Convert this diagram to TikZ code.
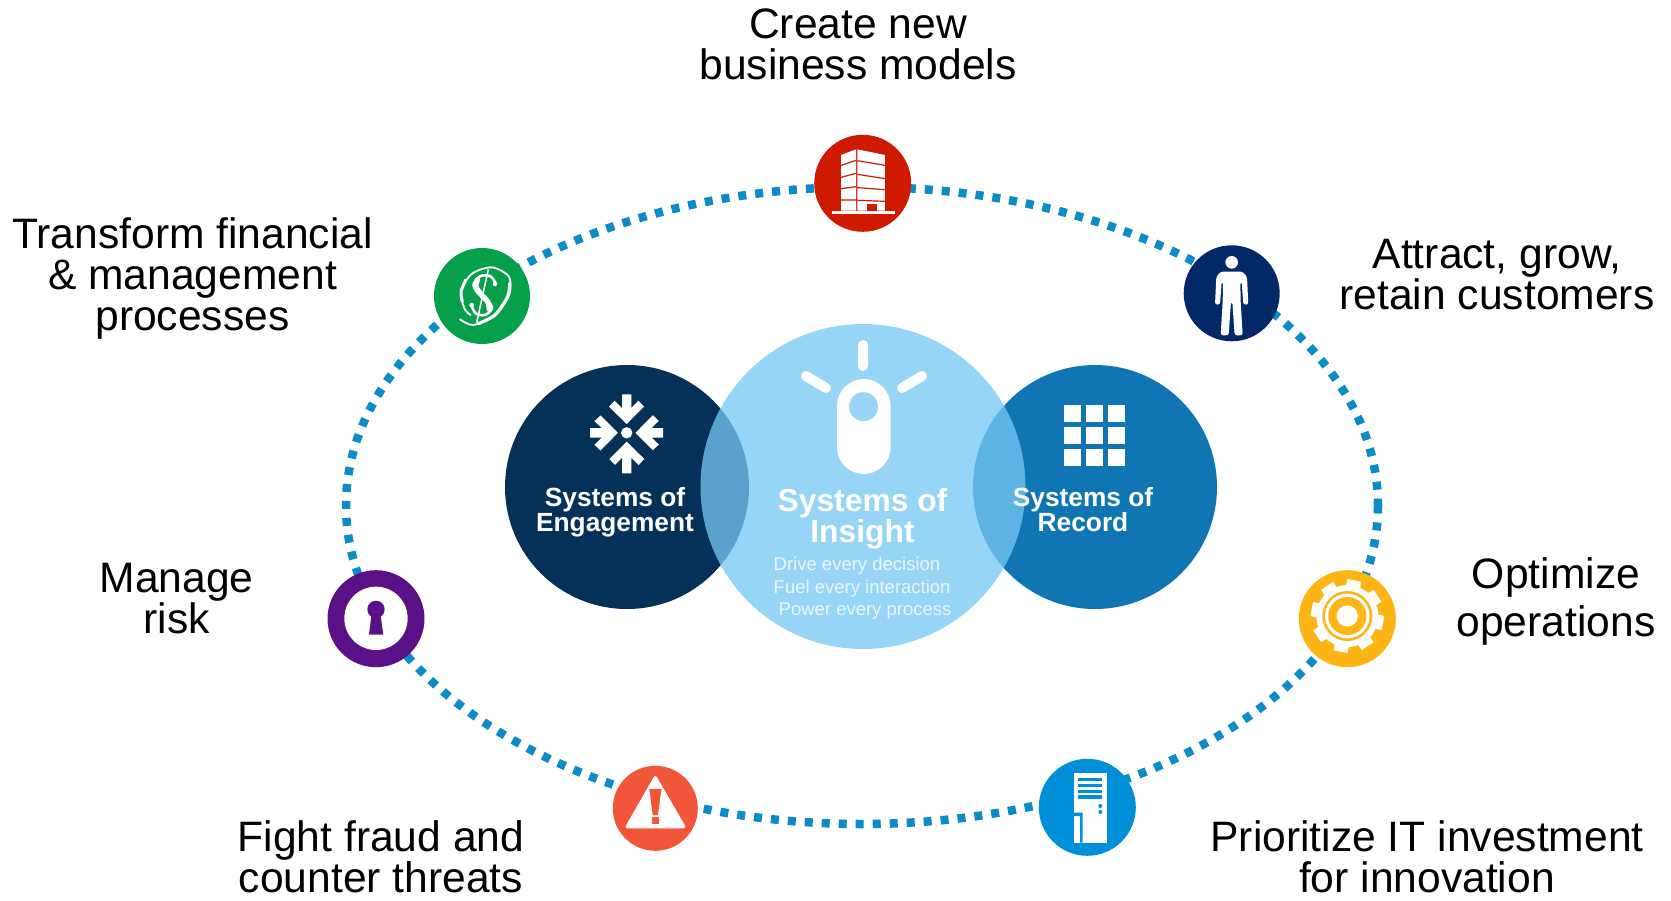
\documentclass[tikz,border=0pt]{standalone}
\usepackage{fontspec}
\setmainfont{Liberation Sans}
\definecolor{ringblue}{HTML}{0A8CC8}
\definecolor{engage}{HTML}{053158}
\definecolor{insightc}{RGB}{118,199,244}
\definecolor{recordc}{HTML}{1076B3}
\definecolor{createc}{HTML}{CF1A00}
\definecolor{transc}{HTML}{06A04A}
\definecolor{attractc}{HTML}{032868}
\definecolor{optc}{HTML}{FDB515}
\definecolor{itc}{HTML}{0090DA}
\definecolor{fraudc}{HTML}{F1553A}
\definecolor{riskc}{HTML}{5A1188}
\definecolor{softw}{HTML}{EAF6FD}
\tikzset{
  disc/.style={circle,inner sep=0pt,minimum size=#1},
  outerlabel/.style={align=center,inner sep=0pt,text=black,font=\fontsize{42.6}{41}\selectfont},
  headlabel/.style={align=center,inner sep=0pt,text=white,font=\fontsize{26.3}{25}\selectfont\bfseries},
  subline/.style={anchor=west,inner sep=0pt,text=softw,font=\fontsize{18.5}{20}\selectfont},
  zoomed/.style 2 args={shift={(#1,#2)},x=.3333pt,y=-.3333pt},
}
\begin{document}
\begin{tikzpicture}[x=1pt,y=-1pt]
\useasboundingbox (0,0) rectangle (1671,900);
% dotted ring
\draw[ringblue,line width=8.5pt,dash pattern=on 8pt off 9pt] (862,505.5) ellipse [x radius=516,y radius=318.5];
% central circles
\node[disc=244pt,fill=engage] (engagement) at (627,487) {};
\node[disc=244pt,fill=recordc] (record) at (1095,487) {};
\node[disc=325pt,fill=insightc,fill opacity=.756] (insight) at (863,486.5) {};
% outer discs
\node[disc=97pt,fill=createc] (create) at (862.7,183.3) {};
\node[disc=96pt,fill=transc] (transform) at (482,296) {};
\node[disc=96pt,fill=attractc] (attract) at (1231.7,293.3) {};
\node[disc=97pt,fill=optc] (optimize) at (1347.3,618.7) {};
\node[disc=97pt,fill=itc] (prioritize) at (1087.3,807.3) {};
\node[disc=85pt,fill=fraudc] (fraud) at (655.3,808.3) {};
\node[disc=97pt,fill=riskc] (risk) at (376,618.7) {};
% snowflake icon
\begin{scope}[zoomed={580}{385}]
\fill[white] (140,143.5) circle (17);
\foreach \a/\t in {0/28,90/34,180/22,270/34}
  \fill[white,rotate around={\a:(140,143.5)}] (126,\t)--(154,\t)--(154,69)--(175,47)--(192,65)--(140,117)--(87,65)--(104,47)--(126,69)--cycle;
\end{scope}
% light bulb icon
\fill[white,rounded corners=26.8pt] (837,379) rectangle (890.6,474);
\fill[insightc!75!white] (863.5,406.7) circle (14.5);
\draw[white,line width=10pt,line cap=round] (863,345)--(863,366) (806,376)--(826,388) (922,376)--(902,388);
% grid icon
\foreach \gx in {1064,1086,1108}
  \foreach \gy in {405,427,449}
    \fill[white] (\gx,\gy) rectangle +(17,17);
% building icon
\begin{scope}[zoomed={780}{120}]
\fill[white] (183,105)--(228,88)--(228,272)--(183,272)--cycle;
\fill[white] (232,88)--(315,105)--(315,272)--(232,272)--cycle;
\fill[white] (156,272) rectangle (345,282);
\draw[createc,line width=1.2pt] (183,136)--(228,121) (183,172)--(228,160) (183,206)--(228,200) (183,240)--(228,240);
\draw[createc,line width=1.2pt] (232,122)--(315,136) (232,163)--(315,176) (232,203)--(315,209) (232,241)--(315,244);
\fill[createc] (260,252) rectangle (290,272);
\end{scope}
% dollar icon
\begin{scope}[zoomed={445}{260}]
\draw[white,line width=1.5pt] (130,28)--(95,188);
\draw[white,line width=2.6pt,line cap=round] plot[smooth] coordinates {(153,72)(137,49)(107,48)(86,72)(97,98)(128,121)(141,145)(120,165)(92,160)(78,133)};
\draw[white,line width=5.4pt,line cap=round] plot[smooth] coordinates {(97,60)(93,80)(108,103)(128,125)(133,148)};
\fill[white] (150,72) circle (7) (80,135) circle (7);
\draw[white,line width=1.8pt,line cap=round] plot[smooth] coordinates {(45,178)(85,195)(150,165)(192,105)(192,50)(140,22)(80,42)(48,95)(58,145)(76,165)};
\draw[white,line width=3.2pt,line cap=round] plot[smooth] coordinates {(100,191)(150,165)(188,110)(194,70)};
\draw[white,line width=3pt,line cap=round] plot[smooth] coordinates {(62,60)(48,95)(52,125)};
\end{scope}
% person icon
\begin{scope}[zoomed={1170}{230}]
\fill[white] (185,97) circle (19);
\fill[white,rounded corners=2.5pt] (152,125)--(218,125)--(231,140)--(235,224)--(220,224)--(215,155)--(211,155)--(212,215)--(218,316)--(194,316)--(187,215)--(183,215)--(176,316)--(152,316)--(158,215)--(159,155)--(155,155)--(150,224)--(135,224)--(139,140)--cycle;
\end{scope}
% gear icon
\begin{scope}[zoomed={1285}{560}]
\begin{scope}[shift={(187,168)}]
\fill[white] (0,0) circle (93);
\foreach \a in {-79,-34,11,56,101,146,191,236}
  \fill[white] (\a-15:85)--(\a-11:111)--(\a+11:111)--(\a+15:85)--cycle;
\fill[optc] (0,0) circle (75);
\fill[white] (0,0) circle (67);
\fill[optc] (0,0) circle (57);
\fill[white] (0,0) circle (32);
\end{scope}
\end{scope}
% server icon
\begin{scope}[zoomed={1025}{750}]
\fill[white] (147,68) rectangle (245,278);
\fill[itc] (147,188) -- (173,188) -- (173,278) -- (165,278) -- (165,198) -- (147,198) -- cycle;
\foreach \by in {84,102,119,136}
  \fill[itc] (160,\by) rectangle (232,\by+10);
\fill[itc] (226,168) circle (6) (226,186) circle (6);
\end{scope}
% alert icon
\begin{scope}[zoomed={600}{755}]
\fill[white,rounded corners=3pt] (166,58)--(260,220)--(73,220)--cycle;
\fill[fraudc] (148,102)--(184,102)--(174,180)--(158,180)--cycle;
\fill[fraudc] (155,185) rectangle (178,207);
\end{scope}
% keyhole icon
\begin{scope}[zoomed={315}{560}]
\fill[white] (183,175) circle (95);
\fill[riskc] (183,148) circle (26);
\fill[riskc] (170,160)--(196,160)--(205,224)--(162,224)--cycle;
\end{scope}
% central text
\node[headlabel] (engtext) at (615,512) {Systems of\\Engagement};
\node[headlabel] (rectext) at (1083,510) {Systems of\\Record};
\node[headlabel,font=\fontsize{31.8}{31}\selectfont\bfseries] (instext) at (862.5,518.5) {Systems of\\Insight};
\node[subline] (drive) at (773.5,566) {Drive every decision};
\node[subline] (fuel) at (773.5,589) {Fuel every interaction};
\node[subline] (power) at (778.5,611.5) {Power every process};
% outer labels
\node[outerlabel] (lcreate) at (858,44) {Create new\\business models};
\node[outerlabel] (ltransform) at (192.5,278.5) {Transform financial\\\& management\\processes};
\node[outerlabel] (lattract) at (1497,275) {Attract, grow,\\retain customers};
\node[outerlabel,font=\fontsize{42.6}{48}\selectfont] (loptimize) at (1556,601) {Optimize\\operations};
\node[outerlabel] (lrisk) at (176.5,599) {Manage\\risk};
\node[outerlabel] (lfraud) at (381,857) {Fight fraud and\\counter threats};
\node[outerlabel] (lprior) at (1427,857) {Prioritize IT investment\\for innovation};
\end{tikzpicture}
\end{document}
